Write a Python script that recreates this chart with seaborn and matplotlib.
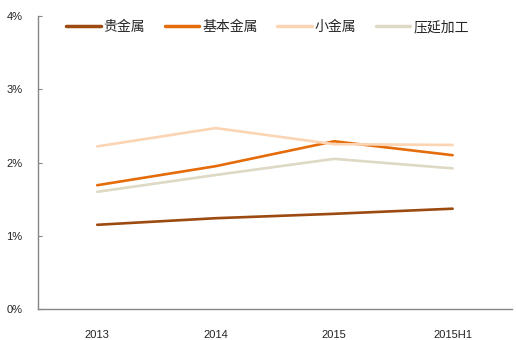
import matplotlib
matplotlib.use("Agg")
import matplotlib.pyplot as plt
from matplotlib.ticker import FixedLocator, FuncFormatter
import seaborn as sns
import pandas as pd

periods = ["2013", "2014", "2015", "2015H1"]
series_names = ["贵金属", "基本金属", "小金属", "压延加工"]
precious = [1.15, 1.24, 1.30, 1.37]
base = [1.69, 1.95, 2.29, 2.10]
minor = [2.22, 2.47, 2.25, 2.24]
rolling = [1.60, 1.83, 2.05, 1.92]
colors = ["#9C4A10", "#E46C0A", "#FBD4B4", "#DDD9C4"]

rows = []
for name, vals in zip(series_names, [precious, base, minor, rolling]):
    for p, v in zip(periods, vals):
        rows.append({"期间": p, "值": v, "类别": name})
df = pd.DataFrame(rows)

sns.set_style("white")
plt.rcParams["font.family"] = ["Liberation Sans", "Noto Sans CJK SC", "DejaVu Sans"]

fig = plt.figure(figsize=(5.16, 3.4), dpi=100)
ax = fig.add_axes([0.0736, 0.091, 0.9184, 0.862])

sns.lineplot(data=df, x="期间", y="值", hue="类别", hue_order=series_names,
             palette=colors, linewidth=1.9, sort=False, ax=ax)

ax.set_xlim(-0.5, 3.5)
ax.set_ylim(0, 4)
ax.set_xlabel("")
ax.set_ylabel("")

ax.yaxis.set_major_locator(FixedLocator([0, 1, 2, 3, 4]))
ax.yaxis.set_major_formatter(FuncFormatter(lambda v, _: f"{v:.0f}%"))
ax.set_xticks(range(len(periods)))
ax.set_xticklabels(periods)
ax.xaxis.set_minor_locator(FixedLocator([0.5, 1.5, 2.5]))

ax.tick_params(axis="x", which="major", length=0, pad=15, labelsize=8, labelcolor="#222222")
ax.tick_params(axis="x", which="minor", direction="in", length=3, width=0.8, color="#868686")
ax.tick_params(axis="y", which="major", direction="in", length=3, width=0.8,
               color="#868686", pad=11, labelsize=8, labelcolor="#222222", left=True)

for side in ["top", "right"]:
    ax.spines[side].set_visible(False)
for side in ["left", "bottom"]:
    ax.spines[side].set_color("#868686")
    ax.spines[side].set_linewidth(1.0)

leg = ax.legend(loc="upper left", bbox_to_anchor=(0.033, 1.028), ncol=4, frameon=False,
                handlelength=2.5, handletextpad=0.2, columnspacing=1.4,
                prop={"family": ["Noto Sans CJK SC"], "size": 10})
for line in leg.get_lines():
    line.set_linewidth(2.5)

fig.savefig("out.png", dpi=100)
